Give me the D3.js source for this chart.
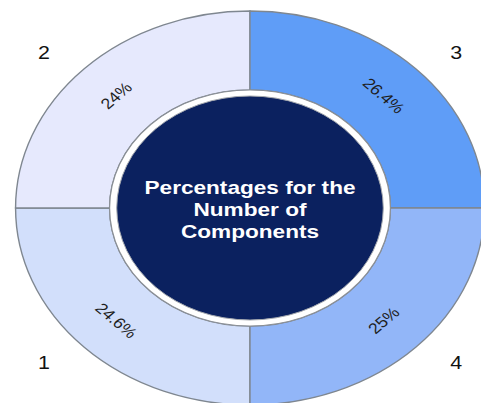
<!DOCTYPE html>
<html lang="en">

<head>
    <meta charset="UTF-8">
    <style>
        body { margin: 0; background: #fff; }
        svg { display: block; }
        text { font-family: "Liberation Sans", Arial, sans-serif; }
    </style>
</head>

<body>
    <svg width="481" height="403"></svg>
    <script src="https://d3js.org/d3.v7.min.js"></script>
    <script>
        // chart data
        let categories = ["1", "2", "3", "4"]
        let percents = [24.6, 24, 26.4, 25]
        let colors = ["#d2dffb", "#e6e9fd", "#5f9df7", "#92b6f8"]
        let centerTitle = ["Percentages for the", "Number of", "Components"]

        let data = categories.map((c, i) => ({ name: c, pct: percents[i], color: colors[i] }))

        var svg = d3.select("svg")

        // picture is a circle stretched sideways, so draw round and scale x
        var g = svg.append("g")
            .attr("transform", "translate(250,208) scale(1.19,1)")

        var outerR = 197, innerR = 118, coreR = 112

        // segments share the ring equally, percentages only go in the labels
        var pie = d3.pie()
            .sort(null)
            .value(() => 1)
            .startAngle(Math.PI)
            .endAngle(3 * Math.PI)

        var arc = d3.arc().innerRadius(innerR).outerRadius(outerR)
        var labelArc = d3.arc().innerRadius(159).outerRadius(159)
        var unitArc = d3.arc().innerRadius(1).outerRadius(1)

        var arcs = pie(data)

        g.selectAll("path.seg")
            .data(arcs)
            .enter()
            .append("path")
            .attr("class", "seg")
            .attr("d", arc)
            .attr("fill", d => d.data.color)
            .attr("stroke", "#7f8790")
            .attr("stroke-width", 1.4)
            .attr("vector-effect", "non-scaling-stroke")

        function tangentRot(d) {
            let a = ((d.startAngle + d.endAngle) / 2) * 180 / Math.PI % 360
            if (a > 90 && a < 270) a -= 180
            else if (a >= 270) a -= 360
            return a
        }

        g.selectAll("text.pct")
            .data(arcs)
            .enter()
            .append("text")
            .attr("class", "pct")
            .attr("transform", d => {
                let c = labelArc.centroid(d)
                return "translate(" + c[0] + "," + c[1] + ") rotate(" + tangentRot(d) + ")"
            })
            .attr("text-anchor", "middle")
            .attr("dy", "0.35em")
            .attr("font-size", 15)
            .attr("fill", "#1e1e1e")
            .text(d => d.data.pct + "%")

        // category numbers sit outside the ring, a bit wider than tall
        g.selectAll("text.name")
            .data(arcs)
            .enter()
            .append("text")
            .attr("class", "name")
            .attr("x", d => unitArc.centroid(d)[0] * 245)
            .attr("y", d => unitArc.centroid(d)[1] * 219)
            .attr("text-anchor", "middle")
            .attr("dy", "0.35em")
            .attr("font-size", 18)
            .attr("fill", "#111")
            .text(d => d.data.name)

        // white ring + navy core
        g.append("circle")
            .attr("r", innerR)
            .attr("fill", "#ffffff")
            .attr("stroke", "#8a8f96")
            .attr("stroke-width", 1.2)
            .attr("vector-effect", "non-scaling-stroke")

        g.append("circle")
            .attr("r", coreR)
            .attr("fill", "#0b215f")
            .attr("stroke", "#a4a8ae")
            .attr("stroke-width", 1)
            .attr("vector-effect", "non-scaling-stroke")

        g.selectAll("text.title")
            .data(centerTitle)
            .enter()
            .append("text")
            .attr("class", "title")
            .attr("x", 0)
            .attr("y", (d, i) => -14 + i * 22)
            .attr("text-anchor", "middle")
            .attr("font-size", 19)
            .attr("font-weight", "bold")
            .attr("fill", "#ffffff")
            .text(d => d)
    </script>
</body>

</html>
